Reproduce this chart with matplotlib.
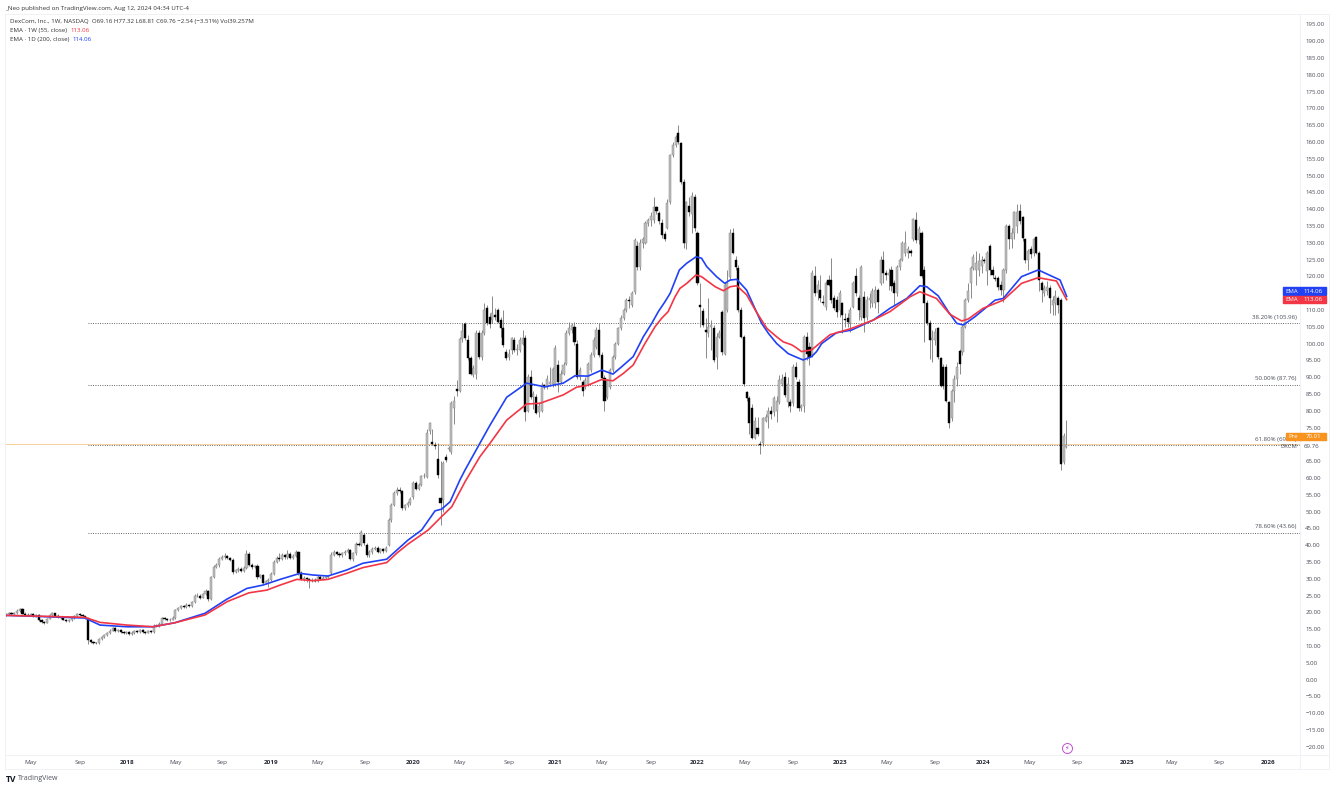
import matplotlib
matplotlib.use('Agg')
import matplotlib.pyplot as plt
from matplotlib.lines import Line2D
from matplotlib.patches import Rectangle
import numpy as np

plt.rcParams['font.family'] = ['Open Sans', 'DejaVu Sans']

W, H = 1332, 788

# weekly candles, one row per 10 bars
opens = [
    19.0,19.4,19.9,19.6,19.8,20.5,21.0,19.6,19.3,19.1,
    19.5,18.9,19.2,17.7,17.1,16.9,18.1,19.3,19.7,19.0,
    18.6,18.2,17.8,17.4,17.7,18.3,18.8,19.4,19.2,18.9,
    18.2,11.9,11.3,11.0,10.8,12.1,12.6,13.2,13.9,14.5,
    15.3,14.5,14.7,14.2,13.9,14.2,13.6,13.9,14.3,14.1,
    14.6,14.2,13.9,14.3,14.0,16.0,15.8,16.6,18.2,18.0,
    17.7,17.8,18.4,20.6,21.2,21.8,21.6,22.3,22.0,23.0,
    24.8,25.0,24.4,25.4,26.4,24.0,30.5,33.6,34.0,36.0,
    36.4,36.8,36.2,35.6,32.0,32.5,33.0,32.4,33.2,37.4,
    34.2,33.4,33.8,30.4,31.0,28.8,29.2,29.6,31.5,35.0,
    36.2,36.0,37.0,36.5,37.5,36.2,36.8,38.0,31.8,30.0,
    30.3,29.8,29.5,29.7,29.4,30.5,30.0,30.2,30.5,31.7,
    37.2,37.9,37.4,37.0,37.6,38.0,38.4,36.0,37.6,40.4,
    40.1,43.0,40.0,37.0,38.0,38.8,39.2,38.0,38.7,38.2,
    40.0,47.5,52.0,55.5,56.5,56.0,51.0,51.8,52.5,54.3,
    58.5,56.8,58.0,60.5,60.3,74.0,70.6,69.8,65.6,54.0,
    53.5,66.2,68.5,67.7,80.8,86.4,86.0,101.3,105.9,101.0,
    95.6,90.6,91.0,103.0,96.0,103.0,110.5,108.0,107.0,108.5,
    110.0,107.0,104.6,97.5,96.0,98.0,101.0,98.0,98.0,100.0,
    101.6,80.0,90.0,84.0,84.0,79.5,80.0,87.7,87.0,88.0,
    88.0,88.0,93.5,88.5,91.0,94.0,103.0,104.0,105.0,100.0,
    90.0,88.5,87.0,88.0,92.0,96.5,99.0,104.0,96.5,89.7,
    84.0,87.0,92.0,96.0,100.0,104.6,107.6,110.0,113.0,111.4,
    115.3,129.0,122.7,130.0,130.0,135.8,136.8,136.8,140.6,138.8,
    136.0,132.5,134.4,142.0,156.0,159.0,162.6,159.6,148.0,130.0,
    141.0,138.6,143.6,133.0,111.5,109.7,104.0,103.0,105.0,104.6,
    96.0,102.0,109.4,97.0,110.0,119.8,133.0,125.0,122.4,110.0,
    102.0,85.6,83.8,80.8,72.0,75.0,70.2,70.3,77.0,78.0,
    80.0,79.6,80.0,82.6,88.0,90.0,82.5,82.5,82.3,93.0,
    88.5,80.8,81.4,102.0,99.0,96.6,120.0,115.0,116.0,112.5,
    111.0,119.0,119.0,113.5,113.0,110.0,112.0,107.4,107.5,106.0,
    111.0,120.0,113.5,107.9,113.8,108.0,113.0,112.0,112.0,116.0,
    118.0,124.9,121.0,120.5,122.0,118.0,115.0,122.8,125.0,127.0,
    127.0,127.5,131.0,136.7,130.8,133.0,122.0,112.0,106.0,101.0,
    101.0,104.6,95.6,93.0,93.0,82.6,77.8,86.0,89.5,97.8,
    97.5,105.0,113.0,118.0,122.5,122.0,122.0,123.0,125.0,121.5,
    129.0,122.0,119.6,119.5,117.5,116.0,122.0,135.0,131.0,133.0,
    135.0,139.5,137.6,131.0,125.0,128.0,127.0,131.7,127.0,118.0,
    115.0,115.5,116.5,111.5,112.0,113.5,113.0,64.6,69.16,
]
highs = [
    19.8,20.2,20.2,20.0,20.9,21.4,21.2,20.0,19.7,19.9,
    19.8,19.6,19.4,18.0,17.4,18.4,19.6,20.2,19.9,19.4,
    18.9,18.5,18.1,18.0,18.6,19.1,19.9,19.7,19.5,19.0,
    18.4,12.2,11.6,11.2,12.4,12.9,13.6,14.2,14.9,15.7,
    15.6,15.0,15.0,14.5,14.5,14.5,14.4,14.7,14.7,14.9,
    14.9,14.5,14.6,14.6,16.5,16.5,17.0,18.7,18.6,18.3,
    18.2,18.8,21.0,21.7,22.2,22.2,22.8,22.6,23.5,25.3,
    25.7,25.4,25.8,26.9,26.7,30.9,34.2,34.6,36.6,37.0,
    37.6,37.2,36.6,36.1,33.0,33.5,33.5,33.9,38.4,37.9,
    34.8,34.1,34.3,31.4,31.5,29.7,30.2,32.0,35.6,36.9,
    37.7,37.7,37.4,38.5,38.0,37.5,38.5,38.3,32.2,30.8,
    30.6,30.2,30.1,30.1,31.0,31.0,30.9,31.0,31.2,37.8,
    38.5,38.2,37.9,38.0,38.5,39.0,38.9,38.0,40.8,41.0,
    44.5,43.6,40.5,38.5,39.4,39.7,39.6,39.2,39.2,39.8,
    48.0,52.6,56.0,57.2,57.2,56.5,52.3,53.0,54.3,59.2,
    59.2,58.6,61.0,61.4,74.5,76.7,74.5,70.6,70.5,65.0,
    65.0,67.0,69.5,83.0,84.5,89.0,102.0,106.0,106.4,102.5,
    96.3,93.5,104.0,104.0,104.0,112.0,111.5,109.0,114.0,110.5,
    110.5,108.0,110.0,98.5,98.5,102.0,102.0,100.0,102.0,104.0,
    102.5,91.0,92.0,86.0,85.0,82.5,88.5,88.0,90.5,93.0,
    93.0,99.5,95.0,92.0,94.5,104.0,106.5,106.0,106.5,101.0,
    93.0,89.0,90.0,94.5,97.5,102.0,105.0,106.0,97.5,90.5,
    89.5,92.6,96.5,100.5,105.0,108.5,110.5,113.6,114.0,115.6,
    131.5,130.5,131.0,131.8,136.5,137.5,139.0,143.5,141.0,139.5,
    137.0,133.5,143.0,156.5,160.0,162.0,165.0,160.0,149.0,142.5,
    143.5,145.0,144.5,133.5,118.0,110.5,107.5,113.5,107.0,105.5,
    103.0,104.0,110.0,118.0,122.0,134.0,134.5,126.0,123.5,111.0,
    102.5,86.0,84.5,82.0,78.0,78.0,71.0,78.0,79.0,81.0,
    81.5,84.5,84.5,90.5,91.0,91.5,90.0,83.5,94.0,94.5,
    89.5,82.0,102.5,103.5,100.5,122.0,123.0,119.0,120.5,114.5,
    118.5,120.5,125.5,114.5,114.0,116.0,112.5,109.0,109.0,111.0,
    118.5,122.5,114.5,123.5,115.5,114.0,115.0,116.5,117.0,116.5,
    126.0,127.5,122.0,122.5,123.0,119.0,123.5,125.5,130.5,133.5,
    129.0,128.0,137.5,139.0,135.0,133.5,123.0,113.0,107.0,104.0,
    104.5,105.0,96.0,94.0,94.0,83.0,86.5,90.5,94.5,98.5,
    105.5,113.5,118.0,123.0,126.5,127.5,127.0,126.0,125.5,127.5,
    129.5,123.0,120.5,120.0,118.5,122.5,135.5,135.5,134.5,139.5,
    141.5,141.5,138.0,131.5,128.0,129.0,131.5,132.0,127.5,118.5,
    117.5,118.5,117.5,114.0,116.0,114.0,113.5,73.5,77.32,
]
lows = [
    18.8,19.2,19.3,19.3,19.5,20.2,19.4,19.0,18.9,18.9,
    18.6,18.7,17.4,16.8,16.6,16.7,17.9,19.0,18.8,18.3,
    18.0,17.6,17.1,17.2,17.4,18.1,18.6,18.9,18.6,17.9,
    10.6,11.0,10.7,10.5,10.6,11.9,12.4,13.0,13.6,14.3,
    14.2,14.2,13.9,13.6,13.6,13.3,13.3,13.6,13.8,13.9,
    13.9,13.5,13.7,13.7,13.7,15.5,15.6,16.4,17.7,17.4,
    17.4,17.6,18.1,20.3,20.9,21.2,21.3,21.7,21.7,22.7,
    24.5,24.0,24.2,25.2,23.5,23.8,30.1,33.2,33.5,35.6,
    35.9,35.8,35.2,31.5,31.8,31.9,32.0,31.9,33.0,33.8,
    33.0,33.1,30.0,30.1,28.3,28.4,27.5,29.2,31.1,34.6,
    35.2,35.5,36.0,36.0,35.8,35.8,36.4,31.2,29.5,29.4,
    29.0,27.2,29.0,29.0,29.0,29.6,29.6,29.9,30.1,31.4,
    36.7,37.0,36.5,36.6,37.2,37.6,35.6,35.4,37.2,39.6,
    39.8,40.0,36.4,36.4,37.5,38.4,37.6,37.6,37.7,37.8,
    39.6,47.0,51.5,55.0,55.4,50.5,50.5,51.3,52.0,53.8,
    56.3,56.3,57.6,60.0,60.0,73.0,69.8,68.5,60.0,46.0,
    50.0,64.8,68.0,67.0,76.0,84.5,85.5,100.5,101.0,95.0,
    90.5,90.0,89.5,95.5,95.0,102.5,105.5,104.5,106.0,107.0,
    106.0,102.0,99.0,95.0,95.0,97.0,97.5,96.5,97.5,99.5,
    77.0,79.5,83.5,80.5,79.0,78.0,79.5,86.5,86.5,87.5,
    87.0,87.5,85.5,88.0,90.5,93.5,102.5,103.0,99.5,89.5,
    89.0,84.5,86.5,87.5,91.5,96.0,98.5,96.0,89.0,80.0,
    83.5,86.5,91.5,95.5,99.5,104.0,107.0,109.5,110.5,111.0,
    114.8,122.0,122.0,128.5,129.5,135.0,135.0,136.0,138.5,135.5,
    131.5,130.5,134.0,141.5,155.5,158.5,159.5,147.5,128.5,128.0,
    138.0,133.0,133.5,117.5,105.0,105.0,95.7,102.0,98.0,94.5,
    92.5,101.5,96.5,96.5,109.5,119.0,126.5,122.0,109.5,101.5,
    87.5,83.0,73.0,71.5,71.5,72.5,67.0,69.5,76.5,75.0,
    77.5,78.5,76.5,82.0,87.5,84.0,81.0,79.5,81.5,89.5,
    80.0,80.0,79.5,95.0,93.5,96.0,114.0,113.0,112.5,111.5,
    110.0,117.0,112.0,110.0,108.0,108.0,103.0,105.0,105.0,103.5,
    110.5,114.0,107.0,107.0,103.5,107.0,110.5,111.0,110.5,109.0,
    117.5,118.0,119.0,116.0,115.5,111.5,114.0,122.0,124.5,126.0,
    125.5,126.0,130.5,130.0,129.5,119.5,100.5,105.5,95.5,94.5,
    99.5,95.5,87.0,86.5,82.5,75.0,77.0,82.5,87.5,91.0,
    96.5,104.5,112.5,113.5,122.0,117.5,120.0,121.0,124.0,117.5,
    120.5,119.5,118.5,116.0,114.5,112.5,121.0,128.0,128.5,131.0,
    133.0,135.5,130.5,124.0,122.0,125.5,126.0,126.5,115.5,112.5,
    114.0,114.5,109.0,108.5,108.5,109.0,62.3,64.0,68.81,
]
closes = [
    19.4,19.9,19.6,19.8,20.5,21.0,19.6,19.3,19.1,19.5,
    18.9,19.2,17.7,17.1,16.9,18.1,19.3,19.7,19.0,18.6,
    18.2,17.8,17.4,17.7,18.3,18.8,19.4,19.2,18.9,18.2,
    11.9,11.3,11.0,10.8,12.1,12.6,13.2,13.9,14.5,15.3,
    14.5,14.7,14.2,13.9,14.2,13.6,13.9,14.3,14.1,14.6,
    14.2,13.9,14.3,14.0,16.0,15.8,16.6,18.2,18.0,17.7,
    17.8,18.4,20.6,21.2,21.8,21.6,22.3,22.0,23.0,24.8,
    25.0,24.4,25.4,26.4,24.0,30.5,33.6,34.0,36.0,36.4,
    36.8,36.2,35.6,32.0,32.5,33.0,32.4,33.2,37.4,34.2,
    33.4,33.8,30.4,31.0,28.8,29.2,29.6,31.5,35.0,36.2,
    36.0,37.0,36.5,37.5,36.2,36.8,38.0,31.8,30.0,30.3,
    29.8,29.5,29.7,29.4,30.5,30.0,30.2,30.5,30.7,37.2,
    37.9,37.4,37.0,37.6,38.0,38.4,36.0,37.6,40.4,40.1,
    43.8,40.5,37.0,38.0,38.8,39.2,38.0,38.7,38.2,39.2,
    47.5,52.0,55.5,56.5,56.2,51.0,51.8,52.5,53.8,58.5,
    56.8,58.0,60.5,60.7,73.5,76.2,70.0,69.5,61.0,52.5,
    64.4,65.4,69.0,82.3,83.0,86.0,101.3,103.6,101.5,95.6,
    91.0,92.7,103.0,96.0,103.0,110.0,106.0,105.8,109.0,108.0,
    106.5,104.6,99.6,95.6,97.0,101.5,98.0,98.5,101.0,101.5,
    79.6,90.0,84.0,85.0,79.3,81.5,87.7,87.0,89.5,88.5,
    92.5,98.7,88.5,91.0,93.5,103.0,104.5,105.5,100.5,90.0,
    92.0,86.0,89.0,94.0,96.5,101.0,104.0,96.6,89.7,83.0,
    89.0,92.0,96.0,100.0,104.6,107.6,110.0,113.0,112.8,115.0,
    130.8,122.7,130.0,131.0,135.8,136.8,138.0,140.6,139.5,136.5,
    132.3,131.0,141.8,156.0,159.0,161.4,160.0,148.0,130.0,142.0,
    139.0,144.0,134.4,118.0,111.0,105.5,103.5,105.0,105.5,95.0,
    102.0,103.0,97.5,117.4,118.0,132.9,127.0,122.8,110.0,102.0,
    88.0,83.8,76.3,72.0,77.0,73.0,69.8,77.7,78.0,80.0,
    79.0,83.8,83.0,89.0,89.5,84.7,88.0,81.3,93.0,90.0,
    80.8,81.5,102.0,97.0,96.0,121.0,115.0,117.5,113.5,112.0,
    118.0,117.5,113.0,110.5,109.5,115.0,108.5,107.0,106.5,110.0,
    118.0,115.0,110.0,122.8,107.6,113.0,113.5,115.5,116.0,112.4,
    125.0,121.0,120.5,121.0,117.0,115.0,122.8,125.0,130.0,130.0,
    128.0,127.0,137.0,130.8,134.0,120.0,112.0,106.0,101.0,101.5,
    103.5,96.0,87.4,87.4,83.0,76.3,86.0,89.5,93.0,94.0,
    105.0,113.0,115.5,122.5,125.7,124.0,124.5,125.0,124.6,127.0,
    122.0,120.5,119.3,116.8,116.0,122.0,135.0,131.0,133.0,139.0,
    139.0,136.5,131.3,125.0,127.5,126.5,131.0,127.0,119.0,116.0,
    116.5,116.8,113.6,113.0,114.0,111.5,64.0,72.5,69.76,
]

# EMA lines, read at the bends: bar number and price
ema_200_bars = [-0.4,28.9,34.4,44.3,53.8,61.8,72.8,80.8,88.1,94,100.3,107.6,112.3,117.8,124.7,130.6,139.3,143,147.1,
                152.1,157,159.4,162.5,166.1,168,173.4,177.1,183.2,190.5,197.2,203.9,208.2,213,218,222.1,225.3,229.5,
                233.2,236.3,238.7,241.1,243,246.4,249.1,252.5,254.5,256.4,260,263,265,267.4,271,276.5,279,282,284.4,
                286.2,289.3,291.7,294.8,296.6,298.5,303.9,309.4,317.4,
                323.5,329.6,334.4,336.9,341.1,344.8,347.9,350.3,354.6,361.9,364.9,371.6,377.7,385.7,388.1]
ema_200 = [19.1,18.3,16.2,15.7,15.7,16.9,19.7,23.9,27.1,28.1,29.8,31.6,31.1,30.8,32.6,34.6,35.8,38.5,41.5,
           44.5,50.2,50.7,52.9,59.4,62.4,70.3,75.7,84,88.2,87.1,88.2,90.4,90.3,92.1,90.9,93.1,96.1,
           102,106,109.5,112.4,114.9,121.9,123.9,125.8,125.4,122.9,119.9,117.9,118.9,119.1,115.9,106,103,100,98.3,
           97,95.9,95.1,96.1,97.6,100,103.2,104,107,
           110.5,113.4,117.2,116.9,114.2,109.5,106,105.5,108,112.9,113.4,119.9,121.9,118.9,114.06]
ema_55_bars = [-0.4,28.9,34.4,44.3,53.8,61.8,72.8,81,88.9,95.4,100.3,106.4,112.3,117.8,124.7,130.6,139.3,143,147.1,
               154.5,159.4,163.1,168,173.4,177.1,183.2,190.5,195.4,203.9,208.8,213,218,222.1,225.9,229.5,
               233.8,237.5,239.9,242.3,244.8,246.6,249.1,252.5,254.5,257,259.5,262.5,265,267.4,271,274.5,278.4,282,
               284.4,287.5,288.7,291.1,294.8,301.5,309.4,317.4,
               323.5,330.8,334.4,340.5,345.4,349.7,352.1,357.6,364.9,371.6,377.7,384.4,388.1]
ema_55 = [19.1,18.5,17.0,16.2,15.7,16.9,19.2,23.2,25.8,26.6,28.1,29.8,29.4,29.8,31.6,33.3,34.8,37.6,40.3,
          44.5,48.5,51.4,58.9,66.3,70.3,77.2,82,82.2,84.7,87,87.6,89.3,88.9,91.1,93.6,
          100,105,107.5,109.5,113.9,116.4,117.9,120.4,119.9,118.4,116.9,115.7,116.9,117.2,114.5,109.5,104.5,102,
          100.5,99.6,99,97.6,98.1,102.6,104.5,107,
          109.5,113.9,115.4,113.4,108.7,106.7,107.3,110.5,112.9,117.9,119.6,118.6,113.06]

fib_levels = [105.96, 87.76, 69.66, 43.66]
fib_labels = ['38.20% (105.96)', '50.00% (87.76)', '61.80% (69.66)', '78.60% (43.66)']

price_ticks = list(range(195, -25, -5))
hidden_ticks = [115, 70]  # sit behind the EMA and Pre tags
time_bars = [9.1,27.1,44.3,62.2,79.0,97.0,114.2,131.4,148.9,166.1,184.0,200.9,218.1,236.0,252.8,270.4,288.0,305.1,
             322.4,339.9,357.5,374.6,391.9,410.2,426.6,443.8,461.7]
time_labels = ['May','Sep','2018','May','Sep','2019','May','Sep','2020','May','Sep','2021','May','Sep','2022',
               'May','Sep','2023','May','Sep','2024','May','Sep','2025','May','Sep','2026']

blue = '#2141f5'
red = '#f23645'
orange = '#f7931e'
grid = '#e6e8ee'
txt = '#4a4d58'


def fx(x):
    return x / W


def fy(y):
    return 1 - y / H


fig = plt.figure(figsize=(W / 100, H / 100), dpi=100, facecolor='white')
L, R, T, B = 5, 1300, 14, 755
ax = fig.add_axes([fx(L), fy(B), (R - L) / W, (B - T) / H])
ax.set_xlim(-0.37, 473.5)
ax.set_ylim(-22.47, 198.07)
for s in ax.spines.values():
    s.set_visible(False)

# frame and axis separators
for x0, y0, x1, y1 in [(5, 14, 1329, 14), (5, 14, 5, 769), (5, 755, 1329, 755), (5, 769, 1329, 769),
                       (1300, 14, 1300, 769), (1329, 14, 1329, 769)]:
    fig.add_artist(Line2D([fx(x0), fx(x1)], [fy(y0), fy(y1)], color='#f0f1f5', lw=0.7))

# price lines
ax.axhline(70.01, color='#f5c98a', lw=0.6, zorder=1)
for lv in fib_levels:
    ax.hlines(lv, 30, 473.5, color='#333333', lw=0.6, linestyles=(0, (1, 1.8)), zorder=2)
for lv, lb in zip(fib_levels, fib_labels):
    ax.text(472.3, lv + 1.1, lb, ha='right', va='bottom', fontsize=4.4, color=txt, zorder=3)

# candles
bars = np.arange(len(closes))
o = np.array(opens)
c = np.array(closes)
is_up = c >= o
ax.vlines(bars, lows, highs, color='#6a6a6a', lw=0.55, zorder=4)
ax.bar(bars[is_up], np.abs(c - o)[is_up], bottom=np.minimum(c, o)[is_up], width=0.74, color='#bdbdbd',
       edgecolor='#8a8a8a', linewidth=0.35, zorder=5)
ax.bar(bars[~is_up], np.abs(c - o)[~is_up], bottom=np.minimum(c, o)[~is_up], width=0.8, color='black',
       edgecolor='black', linewidth=0.3, zorder=5)

# EMAs
ax.plot(ema_200_bars, ema_200, color=blue, lw=1.2, zorder=6, solid_joinstyle='round')
ax.plot(ema_55_bars, ema_55, color=red, lw=1.2, zorder=7, solid_joinstyle='round')

# price axis
ax.yaxis.tick_right()
ax.set_yticks(price_ticks)
ax.set_yticklabels(['' if v in hidden_ticks else f'{v:.2f}'.replace('-', '\u2212') for v in price_ticks],
                   fontsize=4.4, color=txt)
ax.tick_params(axis='y', length=0, pad=3.8)

# time axis
ax.set_xticks(time_bars)
ax.set_xticklabels(time_labels, fontsize=4.6, color=txt)
ax.tick_params(axis='x', length=0, pad=3.4)
for t, lb in zip(ax.get_xticklabels(), time_labels):
    if lb.isdigit():
        t.set_fontweight('bold')
        t.set_color('#2a2e39')


# tags on the price axis
def tag(y, left, right, col, x0):
    fig.add_artist(Rectangle((fx(x0), fy(y + 3.8)), (1299.6 - x0) / W, 7.6 / H, color=col, zorder=8))
    fig.add_artist(Rectangle((fx(1300.4), fy(y + 3.8)), 26 / W, 7.6 / H, color=col, zorder=8))
    fig.text(fx((x0 + 1299.6) / 2), fy(y), left, ha='center', va='center', fontsize=4.3, color='white', zorder=9)
    fig.text(fx(1313.4), fy(y), right, ha='center', va='center', fontsize=4.4, color='white', zorder=9)


tag(291, 'EMA', '114.06', blue, 1283)
tag(299.5, 'EMA', '113.06', red, 1283)
tag(436.5, 'Pre', '70.01', orange, 1286)
fig.text(fx(1297), fy(446), 'DXCM', ha='right', va='center', fontsize=4.2, color=txt)
fig.text(fx(1319.5), fy(446), '69.76', ha='right', va='center', fontsize=4.4, color=txt)

# earnings marker
ax.plot([388.1], [-20.4], 'o', ms=7.2, mfc='white', mec='#c04fd0', mew=0.7, zorder=6)
ax.text(388.1, -20.4, '\u26a1', ha='center', va='center', fontsize=4.6, color='#a030c0', family='DejaVu Sans',
        zorder=7)

# header lines
fig.text(fx(5), fy(8.3), '_Neo published on TradingView.com, Aug 12, 2024 04:34 UTC-4', fontsize=4.5, color='#333333',
         va='center')
fig.text(fx(10), fy(21.5), 'DexCom, Inc., 1W, NASDAQ  O69.16 H77.32 L68.81 C69.76 \u22122.54 (\u22123.51%) Vol39.257M',
         fontsize=4.4, color='#333333', va='center')
fig.text(fx(10), fy(30.5), 'EMA \u00b7 1W (55, close)', fontsize=4.4, color='#333333', va='center')
fig.text(fx(70.5), fy(30.5), '113.06', fontsize=4.4, color=red, va='center')
fig.text(fx(10), fy(39.5), 'EMA \u00b7 1D (200, close)', fontsize=4.4, color='#333333', va='center')
fig.text(fx(72.5), fy(39.5), '114.06', fontsize=4.4, color=blue, va='center')

# footer
fig.text(fx(5.5), fy(779), 'TV', fontsize=6.2, fontweight='bold', color='#131722', va='center')
fig.text(fx(18), fy(779), 'TradingView', fontsize=5, color='#50535e', va='center')

fig.savefig('out.png', dpi=100, facecolor='white')
